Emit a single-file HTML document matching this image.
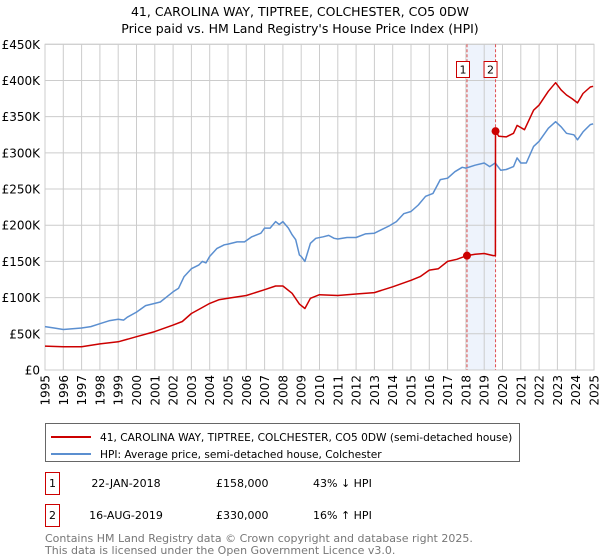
<!DOCTYPE html>
<html><head><meta charset="utf-8"><style>
body{margin:0;background:#fff;font-family:"DejaVu Sans","Liberation Sans",sans-serif;}
#wrap{position:relative;width:600px;height:560px;overflow:hidden;}
svg text{font-family:"DejaVu Sans","Liberation Sans",sans-serif;}
</style></head><body>
<div id="wrap">
<svg id="chart" width="600" height="560"></svg>
</div>
<script>
const hpiYears=[1995,1995.5,1996,1996.5,1997,1997.5,1998,1998.5,1999,1999.3,1999.5,2000,2000.5,2001,2001.3,2001.7,2002,2002.3,2002.6,2003,2003.4,2003.6,2003.8,2004,2004.4,2004.8,2005,2005.5,2005.9,2006.3,2006.8,2007,2007.3,2007.6,2007.8,2008,2008.3,2008.5,2008.7,2008.9,2009,2009.2,2009.5,2009.8,2010.2,2010.5,2010.8,2011,2011.5,2012,2012.5,2013,2013.4,2013.8,2014.2,2014.6,2015,2015.4,2015.8,2016.2,2016.6,2017,2017.4,2017.8,2018,2018.5,2019,2019.3,2019.6,2019.9,2020.2,2020.6,2020.8,2021,2021.3,2021.7,2022,2022.5,2022.9,2023.2,2023.5,2023.9,2024.1,2024.4,2024.8,2024.95];
const hpiValues=[60,58,56,57,58,60,64,68,70,69,73,80,89,92,94,102,108,113,129,140,145,150,148,157,168,173,174,177,177,184,189,196,196,205,201,205,196,187,180,159,157,150,175,182,184,186,182,181,183,183,188,189,194,199,205,216,219,228,240,244,263,265,274,280,279,283,286,281,286,276,277,281,293,286,286,309,316,334,343,336,327,325,318,329,339,340];
const priceYears=[1995,1996,1997,1998,1999,2000,2001,2002,2002.5,2003,2003.5,2004,2004.5,2005,2006,2007,2007.6,2008,2008.5,2008.9,2009.2,2009.5,2010,2011,2012,2013,2014,2015,2015.5,2016,2016.5,2017,2017.5,2018.06,2018.5,2019,2019.5,2019.61,2019.62,2019.8,2020.2,2020.6,2020.8,2021.2,2021.7,2022,2022.5,2022.9,2023.2,2023.5,2023.8,2024.1,2024.4,2024.8,2024.95];
const priceValues=[33,32,32,36,39,46,53,62,67,78,85,92,97,99,103,111,116,116,106,91,85,99,104,103,105,107,115,124,129,138,140,150,153,158,160,161,158,158,330,323,322,327,338,332,359,366,385,397,387,380,375,369,382,391,392];
const saleYears=[2018.06,2019.62];
const saleValues=[158,330];
const saleLabels=["1","2"];
const yTicks=[0,50,100,150,200,250,300,350,400,450];
const yTickLabels=["£0","£50K","£100K","£150K","£200K","£250K","£300K","£350K","£400K","£450K"];
const xTicks=[1995,1996,1997,1998,1999,2000,2001,2002,2003,2004,2005,2006,2007,2008,2009,2010,2011,2012,2013,2014,2015,2016,2017,2018,2019,2020,2021,2022,2023,2024,2025];

const L=45,R=594,T=44.3,B=370;
const xS=y=>L+(y-1995)/30*(R-L);
const yS=v=>B-v/450*(B-T);
const svg=document.getElementById('chart');
const NS='http://www.w3.org/2000/svg';
function mk(tag,attrs,parent){const e=document.createElementNS(NS,tag);for(const k in attrs)e.setAttribute(k,attrs[k]);(parent||svg).appendChild(e);return e;}

let t=mk('text',{x:300,y:16,'text-anchor':'middle','font-size':12.5,fill:'#000'});t.textContent='41, CAROLINA WAY, TIPTREE, COLCHESTER, CO5 0DW';


t=mk('text',{x:300,y:33,'text-anchor':'middle','font-size':12.5,fill:'#000'});t.textContent="Price paid vs. HM Land Registry's House Price Index (HPI)";



let band=mk('rect',{x:xS(saleYears[0]),y:T,width:xS(saleYears[1])-xS(saleYears[0]),height:B-T,fill:'#eef3fc'});



yTicks.forEach((v,i)=>{
  const g=mk('line',{x1:L,x2:R,y1:yS(v),y2:yS(v),stroke:'#cccccc','stroke-width':1});
  
  
  const tx=mk('text',{x:L-5,y:yS(v)+4.5,'text-anchor':'end','font-size':12,fill:'#000'});tx.textContent=yTickLabels[i];
  
  
});
xTicks.forEach(y=>{
  const g=mk('line',{x1:xS(y),x2:xS(y),y1:T,y2:B,stroke:'#cccccc','stroke-width':1});
  
  
  const tx=mk('text',{x:0,y:0,'text-anchor':'end','font-size':12,fill:'#000',transform:`translate(${xS(y)+4.5},${B+5}) rotate(-90)`});tx.textContent=y;
  
  
});
let fr=mk('rect',{x:L,y:T,width:R-L,height:B-T,fill:'none',stroke:'#cccccc'});



saleYears.forEach((y,i)=>{
  const l=mk('line',{x1:xS(y),x2:xS(y),y1:T,y2:B,stroke:'#e05050','stroke-width':1,'stroke-dasharray':'3,2'});
  
  
});

function path(xs,vs,color,name){
  const d=xs.map((x,i)=>(i?'L':'M')+xS(x).toFixed(1)+','+yS(vs[i]).toFixed(1)).join('');
  const p=mk('path',{d:d,fill:'none',stroke:color,'stroke-width':1.5,'stroke-linejoin':'round'});
  
  
}
path(hpiYears,hpiValues,'#5b8fd0','hpi-line');
path(priceYears,priceValues,'#cc0000','price-paid-line');

saleYears.forEach((y,i)=>{
  const c=mk('circle',{cx:xS(y),cy:yS(saleValues[i]),r:4,fill:'#cc0000'});
  
  
  const bx=xS(y)-(i===0?10:11);
  const r=mk('rect',{x:bx-0.5,y:61.5,width:13,height:16,fill:'#fff',stroke:'#cc0000'});
  
  
  const tx=mk('text',{x:bx+6,y:73.5,'text-anchor':'middle','font-size':11,fill:'#000'});tx.textContent=saleLabels[i];
  
  
});

// legend
let lg=mk('rect',{x:45.5,y:423.5,width:474,height:38,fill:'#fff',stroke:'#666'});


let ll=mk('line',{x1:51,x2:91,y1:437,y2:437,stroke:'#cc0000','stroke-width':2});


t=mk('text',{x:100,y:441,'font-size':10.6,fill:'#000'});t.textContent='41, CAROLINA WAY, TIPTREE, COLCHESTER, CO5 0DW (semi-detached house)';


ll=mk('line',{x1:51,x2:91,y1:454,y2:454,stroke:'#5b8fd0','stroke-width':2});


t=mk('text',{x:100,y:458,'font-size':10.6,fill:'#000'});t.textContent='HPI: Average price, semi-detached house, Colchester';



const rows=[["1","22-JAN-2018","£158,000","43% ↓ HPI",482],["2","16-AUG-2019","£330,000","16% ↑ HPI",514]];
rows.forEach(r=>{
  const b=mk('rect',{x:45.5,y:r[4]-9.5,width:14,height:22,fill:'#fff',stroke:'#cc0000'});
  
  
  let tt=mk('text',{x:52.5,y:r[4]+5,'text-anchor':'middle','font-size':11,fill:'#000'});tt.textContent=r[0];
  
  
  tt=mk('text',{x:126,y:r[4]+5,'text-anchor':'middle','font-size':11,fill:'#000'});tt.textContent=r[1];
  
  
  tt=mk('text',{x:216,y:r[4]+5,'font-size':11,fill:'#000'});tt.textContent=r[2];
  
  
  tt=mk('text',{x:313,y:r[4]+5,'font-size':11,fill:'#000'});tt.textContent=r[3];
  
  
});
t=mk('text',{x:45,y:542,'font-size':11,fill:'#777'});t.textContent='Contains HM Land Registry data © Crown copyright and database right 2025.';


t=mk('text',{x:45,y:554,'font-size':11,fill:'#777'});t.textContent='This data is licensed under the Open Government Licence v3.0.';


</script>
</body></html>
